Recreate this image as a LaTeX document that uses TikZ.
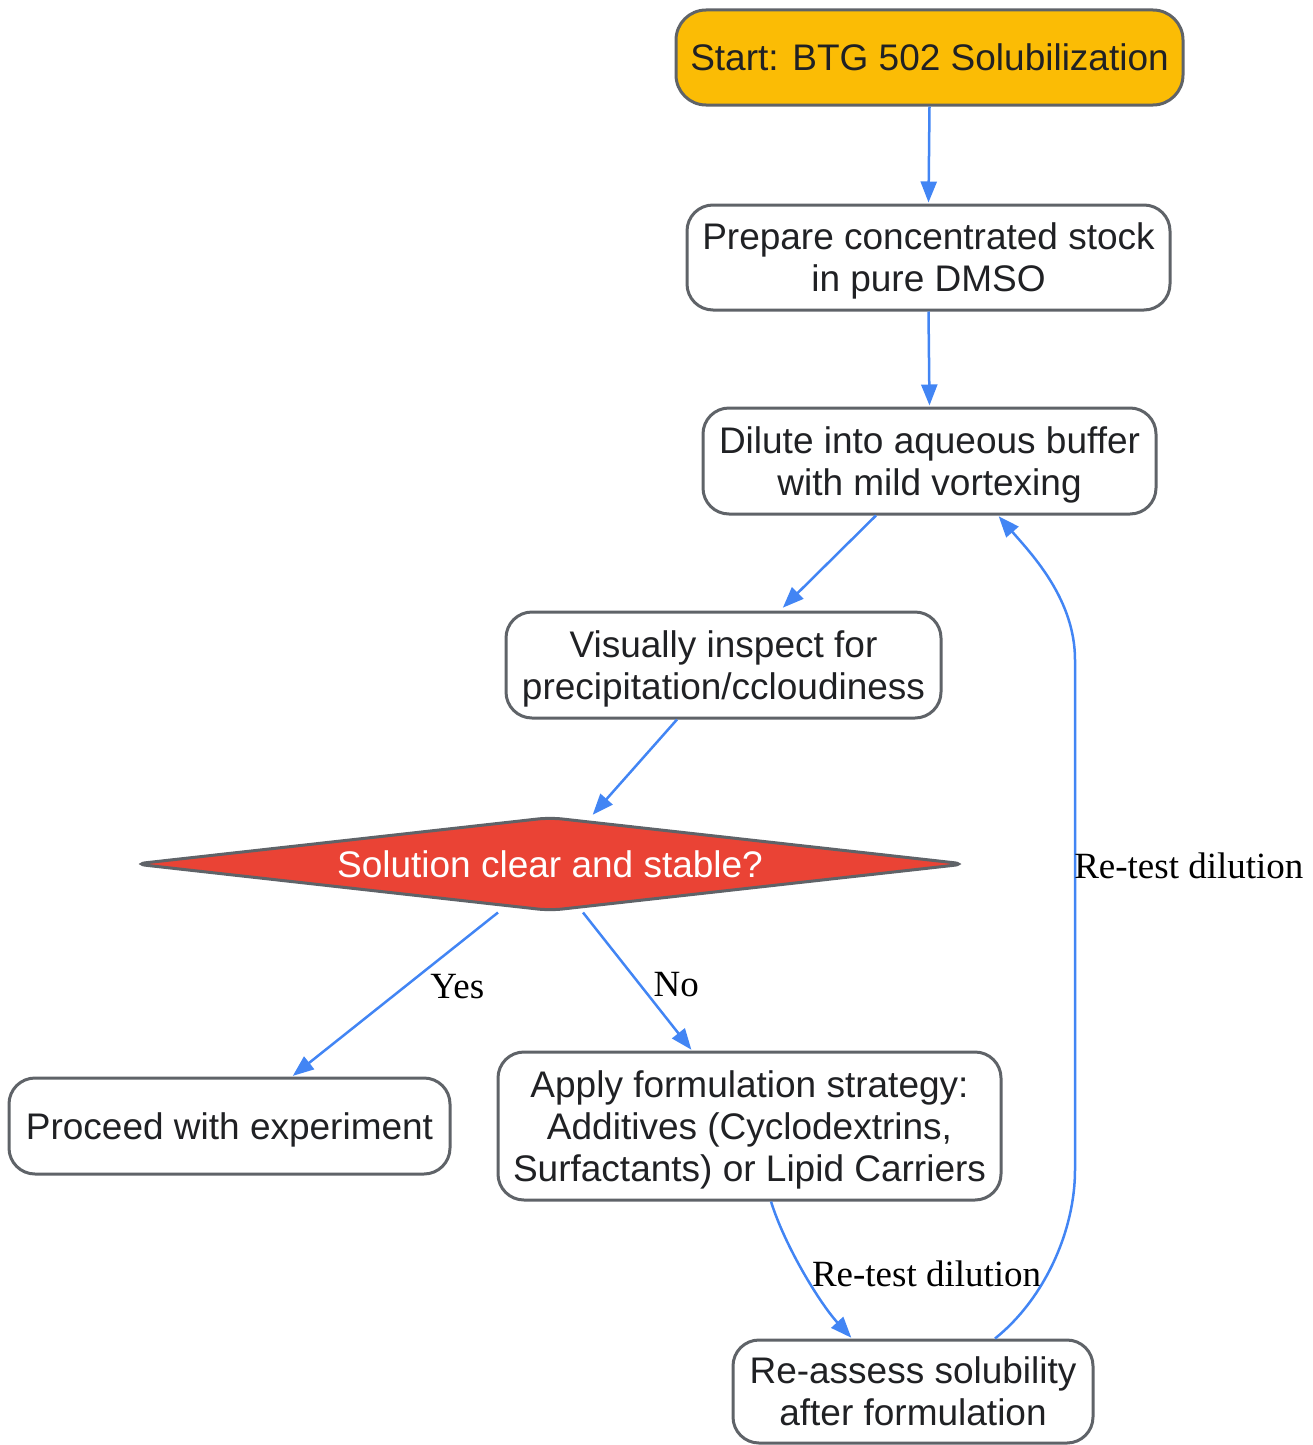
\documentclass[tikz,border=0pt]{standalone}
\usepackage{fontspec}
\setmainfont{Liberation Serif}
\newfontfamily\arialf{Liberation Sans}
\usetikzlibrary{shapes.geometric,arrows.meta}
\definecolor{bordergray}{HTML}{5F6368}
\definecolor{txt}{HTML}{202124}
\definecolor{arrowblue}{HTML}{4285F4}
\definecolor{startfill}{HTML}{FBBC05}
\definecolor{decfill}{HTML}{EA4335}
\begin{document}
\begin{tikzpicture}[x=1pt,y=-1pt,
  box/.style={draw=bordergray, line width=3pt, rounded corners=26pt, fill=white, align=center, text=txt, font=\arialf\fontsize{37}{42}\selectfont, inner sep=0pt, text depth=-5pt},
  decbox/.style={diamond, draw=bordergray, line width=3pt, fill=decfill, text=white, font=\arialf\fontsize{37}{42}\selectfont, inner sep=0pt, aspect=8.9, rounded corners=12pt, text depth=-3pt},
  conn/.style={draw=arrowblue, line width=2.5pt, -{Triangle[length=21pt,width=16pt]}, shorten >=1pt},
  lbl/.style={font=\fontsize{37}{42}\selectfont, text=black, inner sep=0pt}
]
\useasboundingbox (0,0) rectangle (1313,1445);

\node[box, fill=startfill, minimum width=507pt, minimum height=95pt, rounded corners=30pt] (start) at (929.5,57.5) {Start: BTG 502 Solubilization};
\node[box, minimum width=483pt, minimum height=105pt] (prep) at (928.5,257.5) {Prepare concentrated stock\\in pure DMSO};
\node[box, minimum width=453pt, minimum height=106pt] (dilute) at (929.5,461) {Dilute into aqueous buffer\\with mild vortexing};
\node[box, minimum width=435pt, minimum height=106pt] (inspect) at (723.5,665) {Visually inspect for\\precipitation/ccloudiness};
\node[decbox, minimum width=832pt, minimum height=94pt] (dec) at (550,864) {Solution clear and stable?};
\node[box, minimum width=441pt, minimum height=96pt] (proceed) at (229.5,1126) {Proceed with experiment};
\node[box, minimum width=503pt, minimum height=148pt] (apply) at (749.5,1126) {Apply formulation strategy:\\Additives (Cyclodextrins,\\Surfactants) or Lipid Carriers};
\node[box, minimum width=360pt, minimum height=103pt] (reassess) at (913,1391.5) {Re-assess solubility\\after formulation};

\draw[conn] (start.south) -- (prep.north);
\draw[conn] (prep.south) -- (dilute.north);
\draw[conn, shorten >=4pt] ([xshift=-53.5pt]dilute.south) -- ([xshift=56.5pt]inspect.north);
\draw[conn] ([xshift=-46.5pt]inspect.south) -- ([xshift=42pt]dec.north);
\draw[conn] ([xshift=-52pt]dec.south) -- node[lbl, pos=0.45, xshift=52pt] {Yes} ([xshift=62.5pt]proceed.north);
\draw[conn] ([xshift=33pt]dec.south) -- node[lbl, pos=0.52, xshift=36.6pt] {No} ([xshift=-57.5pt]apply.north);
\draw[conn] ([xshift=21.5pt]apply.south) .. controls +(14,45) and +(-32,-35) .. node[lbl, pos=0.5, anchor=west, xshift=6pt] {Re-test dilution} ([xshift=-61pt]reassess.north);
\draw[conn] ([xshift=82pt]reassess.north) .. controls +(50,-40) and +(0,60) .. (1075,1170) -- node[lbl, pos=0.596, anchor=west, xshift=-2pt] {Re-test dilution} (1075,660) .. controls +(0,-60) and +(35,40) .. ([xshift=68.5pt]dilute.south);
\end{tikzpicture}
\end{document}
